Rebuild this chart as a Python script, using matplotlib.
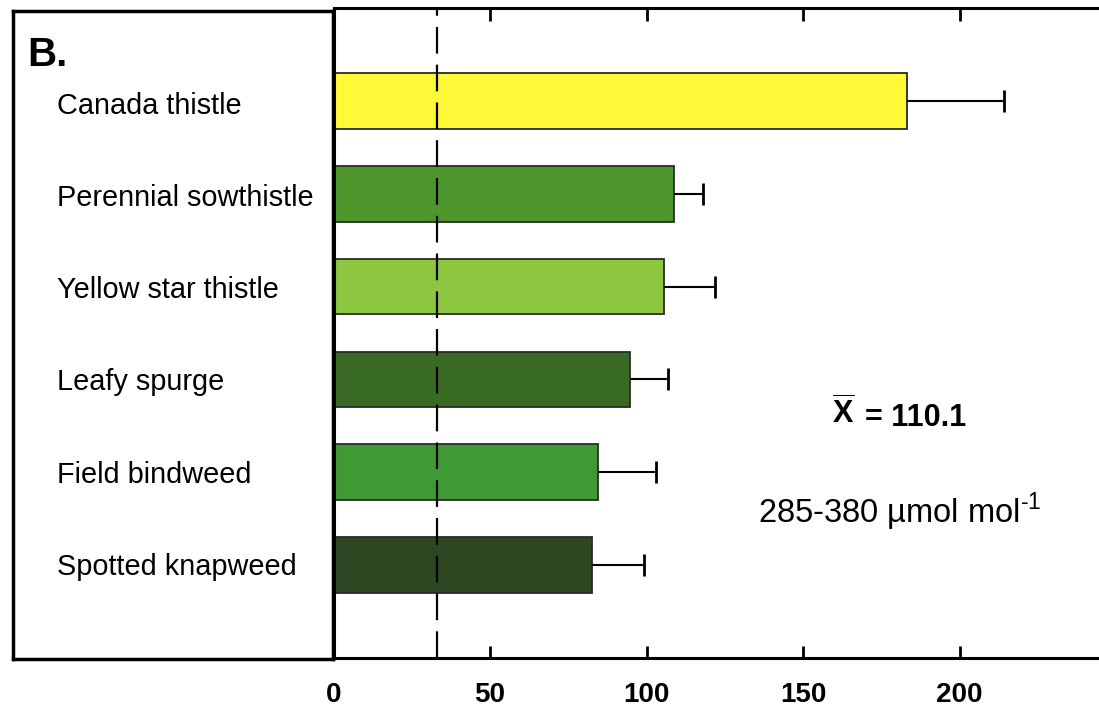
import numpy as np
import matplotlib
matplotlib.use('Agg')
import matplotlib.pyplot as plt

plt.rcParams['font.family'] = ['Liberation Sans', 'DejaVu Sans']
plt.rcParams['mathtext.fontset'] = 'custom'
plt.rcParams['mathtext.rm'] = 'Liberation Sans'
plt.rcParams['mathtext.bf'] = 'Liberation Sans:bold'

# data, top to bottom
species = ['Canada thistle', 'Perennial sowthistle', 'Yellow star thistle',
           'Leafy spurge', 'Field bindweed', 'Spotted knapweed']
means = [183.2, 108.6, 105.7, 94.7, 84.6, 82.6]
errs = [30.8, 9.5, 16.2, 12.0, 18.5, 16.6]
colors = ['#FFF937', '#4C962C', '#8DC63F', '#3A6B25', '#3F9A36', '#2C4722']
ref_line = 33
xticks = [0, 50, 100, 150, 200]

fig = plt.figure(figsize=(10.99, 7.10), dpi=100)

# left label panel
lab = fig.add_axes([13/1099, 1 - 659/710, (333 - 13)/1099, (659 - 11)/710])
lab.set_xticks([])
lab.set_yticks([])
for s in lab.spines.values():
    s.set_linewidth(2.5)
lab.set_ylim(-1, 6.03)
lab.set_xlim(0, 1)
ypos = np.arange(len(species))[::-1]
for name, y in zip(species, ypos):
    lab.text(0.138, y, name, fontsize=20.8, va='center', ha='left')
lab.text(0.045, 5.55, 'B.', fontsize=29, fontweight='bold', va='center', ha='left')

# main bar axes
ax = fig.add_axes([333.5/1099, 1 - 658/710, 1 - 333.5/1099, (658 - 8)/710])
ax.barh(ypos, means, height=0.6, color=colors, edgecolor='#2a2a2a', linewidth=1.3, zorder=2)
eb = ax.errorbar(means, ypos, xerr=[np.zeros(len(errs)), errs], fmt='none',
                 ecolor='black', elinewidth=1.5, capsize=8, capthick=2, zorder=3)
eb[1][0].set_visible(False)
ax.axvline(ref_line, color='black', lw=1.6, linestyle=(0, (12, 5)), zorder=4)

ax.set_xlim(0, 244.5)
ax.set_ylim(-1, 6)
ax.set_yticks([])
ax.set_xticks(xticks)
ax.set_xticklabels([str(t) for t in xticks], fontsize=20, fontweight='bold')
ax.tick_params(axis='x', direction='in', top=True, length=9, width=2, pad=17)
ax.spines['right'].set_visible(False)
for k in ['left', 'top', 'bottom']:
    ax.spines[k].set_linewidth(2.2)

ax.text(0.666, 0.376, r'$\mathbf{\overline{X}}$', transform=ax.transAxes,
        fontsize=22, ha='center', va='center')
ax.text(0.694, 0.369, '= 110.1', transform=ax.transAxes, fontweight='bold',
        fontsize=22, ha='left', va='center')
ax.text(0.74, 0.225, r'285-380 µmol mol$^{\text{-1}}$', transform=ax.transAxes,
        fontsize=23.5, ha='center', va='center')

fig.savefig('out.png', dpi=100)
